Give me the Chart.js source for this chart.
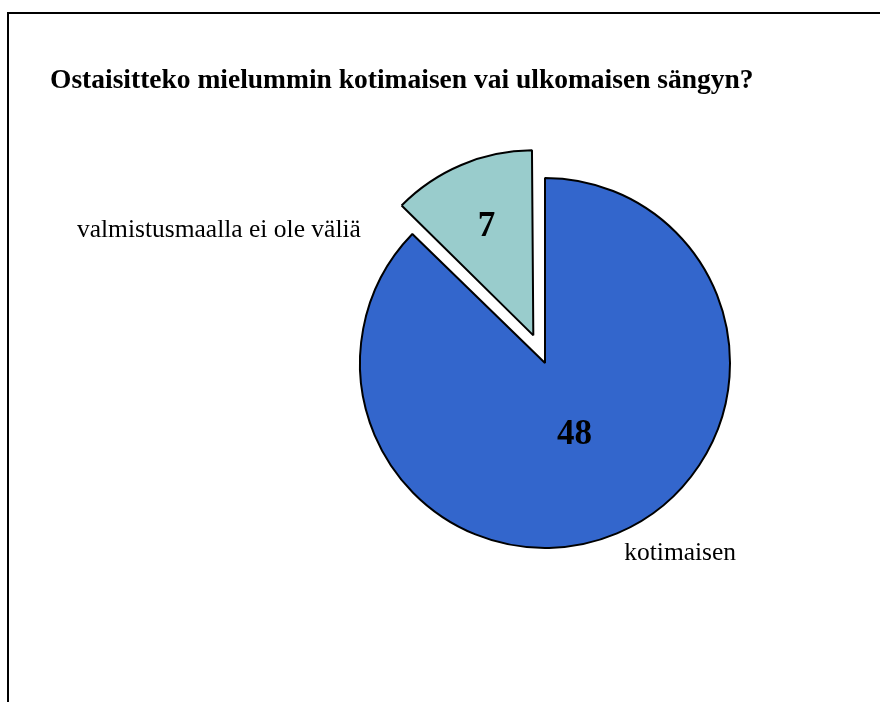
<!DOCTYPE html>
<html>
<head>
<meta charset="utf-8">
<script src="https://cdn.jsdelivr.net/npm/chart.js@4"></script>
<style>
  html, body { margin: 0; padding: 0; background: #fff; }
  #wrap { width: 880px; height: 702px; }
</style>
</head>
<body>
<div id="wrap"><canvas id="pieChart"></canvas></div>
<script>
// Data
const otsikko = 'Ostaisitteko mielummin kotimaisen vai ulkomaisen sängyn?';
const vastaukset = ['kotimaisen', 'valmistusmaalla ei ole väliä'];
const maarat = [48, 7];
const varit = ['#3366CC', '#99CCCC'];
const irrotus = [0, 30]; // px

// Label placement (fraction of radius, angle shift in degrees)
const arvoPaikka = [0.41, 0.65];
const nimiPaikka = [
  { k: 1.1, kulma: 0, align: 'left' },
  { k: 1.1, kulma: -35, align: 'right' }
];

const sade = 185;

const tekstit = {
  id: 'tekstit',
  beforeDraw(chart) {
    const c = chart.ctx;
    c.save();
    c.fillStyle = '#fff';
    c.fillRect(0, 0, chart.width, chart.height);
    c.restore();
  },
  // Chart.js kasvattaa irrotetun sektorin sädettä; pidetään sama säde kuin Excelissä
  afterDatasetsUpdate(chart) {
    chart.getDatasetMeta(0).data.forEach((arc, i) => {
      const circ = arc.endAngle - arc.startAngle;
      const fix = 1 - Math.sin(Math.min(Math.PI, circ));
      arc.outerRadius = sade - irrotus[i] * fix;
    });
  },
  afterDraw(chart) {
    const c = chart.ctx;
    c.save();
    // kehys
    c.strokeStyle = '#000';
    c.lineWidth = 2;
    c.strokeRect(8, 13, 1000, 1000);

    // otsikko
    c.fillStyle = '#000';
    c.font = 'bold 27.5px "Liberation Serif"';
    c.textAlign = 'left';
    c.textBaseline = 'alphabetic';
    c.fillText(otsikko, 50, 88);

    const meta = chart.getDatasetMeta(0);
    meta.data.forEach((arc, i) => {
      const p = arc.getProps(['x', 'y', 'startAngle', 'endAngle']);
      const mid = (p.startAngle + p.endAngle) / 2;
      const off = irrotus[i];
      const cx = p.x + Math.cos(mid) * off;
      const cy = p.y + Math.sin(mid) * off;

      // arvo
      c.font = 'bold 35px "Liberation Serif"';
      c.textAlign = 'center';
      c.textBaseline = 'middle';
      const r1 = sade * arvoPaikka[i];
      c.fillText(String(maarat[i]), cx + Math.cos(mid) * r1, cy + Math.sin(mid) * r1 + 2);

      // nimi
      const n = nimiPaikka[i];
      const a = mid + n.kulma * Math.PI / 180;
      const r2 = sade * n.k;
      c.font = '25.5px "Liberation Serif"';
      c.textAlign = n.align;
      c.fillText(vastaukset[i], cx + Math.cos(a) * r2, cy + Math.sin(a) * r2 + 3);
    });
    c.restore();
  }
};

const ctx = document.getElementById('pieChart').getContext('2d');
const chart = new Chart(ctx, {
  type: 'pie',
  data: {
    labels: vastaukset,
    datasets: [{
      data: maarat,
      backgroundColor: varit,
      borderColor: '#000',
      borderWidth: 2,
      // Chart.js v4 draws offset / 4 pixels
      offset: irrotus.map(v => v * 4)
    }]
  },
  options: {
    responsive: true,
    maintainAspectRatio: false,
    animation: false,
    radius: sade,
    layout: { padding: { left: 240, right: 30, top: 124, bottom: 100 } },
    plugins: {
      legend: { display: false },
      tooltip: { enabled: false }
    }
  },
  plugins: [tekstit]
});
</script>
</body>
</html>
